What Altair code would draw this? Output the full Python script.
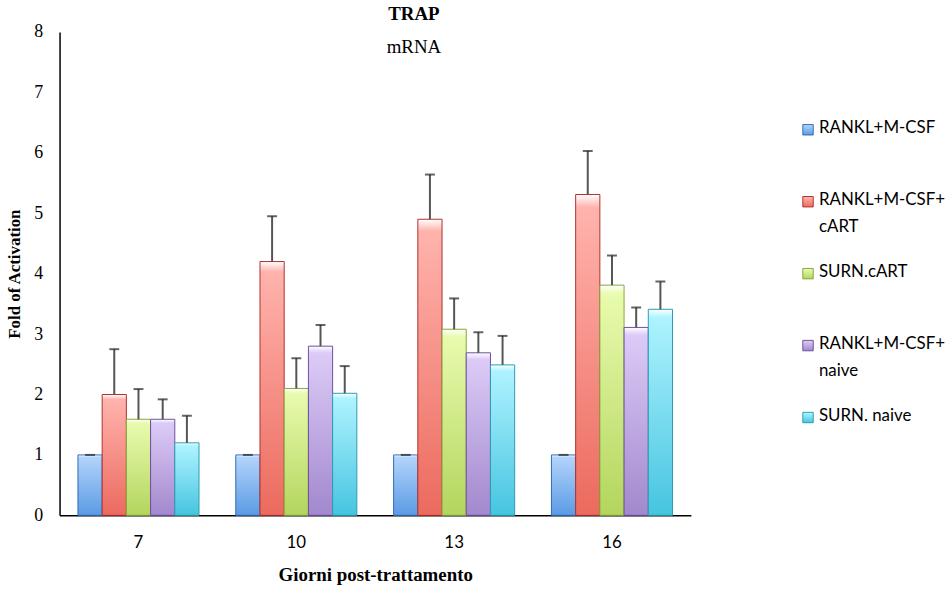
import altair as alt
import pandas as pd

days = ["7", "10", "13", "16"]
series = ["RANKL+M-CSF", "RANKL+M-CSF+cART", "SURN.cART", "RANKL+M-CSF+naive", "SURN. naive"]
legend_labels = ["RANKL+M-CSF", "RANKL+M-CSF+\ncART", "SURN.cART", "RANKL+M-CSF+\nnaive", "SURN. naive"]

val_rankl = [1.0, 1.0, 1.0, 1.0]
val_rankl_cart = [2.0, 4.2, 4.9, 5.31]
val_surn_cart = [1.59, 2.1, 3.08, 3.81]
val_rankl_naive = [1.59, 2.8, 2.69, 3.11]
val_surn_naive = [1.2, 2.02, 2.49, 3.41]

err_rankl = [0.0, 0.0, 0.0, 0.0]
err_rankl_cart = [0.75, 0.75, 0.74, 0.72]
err_surn_cart = [0.5, 0.5, 0.51, 0.49]
err_rankl_naive = [0.33, 0.35, 0.34, 0.33]
err_surn_naive = [0.45, 0.45, 0.48, 0.46]

values = [val_rankl, val_rankl_cart, val_surn_cart, val_rankl_naive, val_surn_naive]
errors = [err_rankl, err_rankl_cart, err_surn_cart, err_rankl_naive, err_surn_naive]

# style: (top colour, bottom colour, stroke)
styles = [
    ("#b2d3fb", "#5a9be4", "#2f6db5"),
    ("#ffb3ad", "#ec6a5e", "#b0302c"),
    ("#e8fbae", "#b3d55d", "#86a63c"),
    ("#dccbf7", "#a288cd", "#6e4f9e"),
    ("#aef3ff", "#46c4e0", "#2a9cb5"),
]

rows = []
for s, vs, es in zip(series, values, errors):
    for d, v, e in zip(days, vs, es):
        rows.append({"day": d, "series": s, "value": v, "upper": v + e})
df = pd.DataFrame(rows)

leg_df = pd.DataFrame({"series": series, "label": legend_labels, "idx": list(range(len(series)))})


def grad(top, bottom):
    return alt.LinearGradient(
        gradient="linear",
        stops=[
            alt.GradientStop(color="#ffffff", offset=0),
            alt.GradientStop(color=top, offset=0.04),
            alt.GradientStop(color=bottom, offset=1),
        ],
        x1=0, x2=0, y1=0, y2=1,
    )


x_enc = alt.X(
    "day:N",
    sort=days,
    scale=alt.Scale(domain=days, paddingInner=0.233, paddingOuter=0.1165),
    axis=alt.Axis(
        title="Giorni post-trattamento", labelAngle=0, ticks=False,
        labelFont="Lato", labelFontSize=17, labelColor="black", labelPadding=19,
        titleFont="Liberation Serif", titleFontSize=19, titleFontWeight="bold",
        titleColor="black", titlePadding=16, domainColor="black", domainWidth=1.5,
    ),
)
xo_enc = alt.XOffset("series:N", scale=alt.Scale(domain=series, paddingInner=0, paddingOuter=0))


def y_enc(field):
    return alt.Y(
        f"{field}:Q",
        scale=alt.Scale(domain=[0, 8]),
        axis=alt.Axis(
            title="Fold of Activation", values=list(range(9)), ticks=False, grid=False,
            labelFont="Liberation Serif", labelFontSize=18, labelColor="black", labelPadding=17,
            titleFont="Liberation Serif", titleFontSize=17, titleFontWeight="bold",
            titleColor="black", titlePadding=10, domainColor="black", domainWidth=1.5,
        ),
    )


base = alt.Chart(df)
layers = []
for s, (top, bottom, stroke) in zip(series, styles):
    layers.append(
        base.transform_filter(alt.datum.series == s)
        .mark_bar(fill=grad(top, bottom), stroke=stroke, strokeWidth=1)
        .encode(x=x_enc, xOffset=xo_enc, y=y_enc("value"))
    )

rules = base.mark_rule(color="#555555", strokeWidth=2).encode(
    x=x_enc, xOffset=xo_enc, y=y_enc("value"), y2="upper:Q"
)
caps = base.mark_tick(color="#222222", thickness=2, size=10).encode(
    x=x_enc, xOffset=xo_enc, y=y_enc("upper")
)

title_df = pd.DataFrame({"t": ["TRAP"]})
sub_df = pd.DataFrame({"t": ["mRNA"]})
title1 = alt.Chart(title_df).mark_text(
    font="Liberation Serif", fontSize=19, fontWeight="bold", color="black"
).encode(x=alt.value(357), y=alt.value(-18), text="t:N")
title2 = alt.Chart(sub_df).mark_text(
    font="Liberation Serif", fontSize=19, color="black"
).encode(x=alt.value(357), y=alt.value(15), text="t:N")

main = alt.layer(*layers, rules, caps, title1, title2).properties(width=636, height=487)

leg_y = alt.Y("idx:Q", scale=alt.Scale(domain=[-1.36, 5.36], reverse=True), axis=None)
leg_layers = []
for s, (top, bottom, stroke) in zip(series, styles):
    leg_layers.append(
        alt.Chart(leg_df).transform_filter(alt.datum.series == s)
        .mark_square(size=110, fill=grad(top, bottom), stroke=stroke, strokeWidth=1, opacity=1)
        .encode(x=alt.value(118), y=leg_y)
    )
leg_text = alt.Chart(leg_df).mark_text(
    align="left", baseline="top", dy=-10, lineBreak="\n", lineHeight=28,
    font="Lato", fontSize=17, color="black"
).encode(x=alt.value(129), y=leg_y, text="label:N")

legend = alt.layer(*leg_layers, leg_text).properties(width=240, height=487)

chart = alt.hconcat(main, legend, spacing=0).properties(
    padding={"left": 6, "top": 3, "right": 0, "bottom": 0}
).configure_view(stroke=None)

chart.save("out.html", embed_options={"renderer": "svg", "actions": False})
